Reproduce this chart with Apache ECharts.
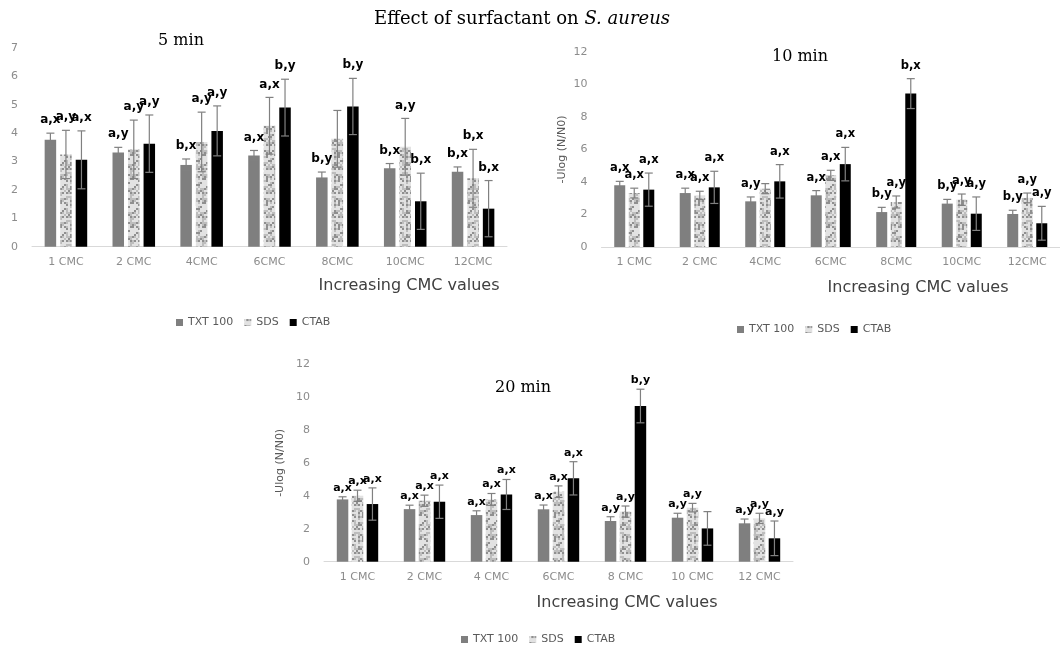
<!DOCTYPE html>
<html><head><meta charset="utf-8">
<script src="https://cdn.jsdelivr.net/npm/echarts@6/dist/echarts.min.js"></script>
<style>html,body{margin:0;padding:0;background:#fff}#c{width:1060px;height:645px}</style>
</head><body><div id="c"></div>
<script>
// ---------------- DATA ----------------
const seriesNames = ['TXT 100', 'SDS', 'CTAB'];

const cats5  = ['1 CMC', '2 CMC', '4CMC', '6CMC', '8CMC', '10CMC', '12CMC'];
const cats10 = ['1 CMC', '2 CMC', '4CMC', '6CMC', '8CMC', '10CMC', '12CMC'];
const cats20 = ['1 CMC', '2 CMC', '4 CMC', '6CMC', '8 CMC', '10 CMC', '12 CMC'];

// 5 min
const txt5     = [3.77, 3.32, 2.88, 3.21, 2.44, 2.76, 2.64];
const txt5Err  = [0.23, 0.18, 0.21, 0.18, 0.19, 0.17, 0.17];
const sds5     = [3.25, 3.43, 3.69, 4.26, 3.80, 3.52, 2.41];
const sds5Err  = [0.85, 1.03, 1.05, 1.00, 1.00, 1.00, 1.02];
const ctab5    = [3.06, 3.63, 4.08, 4.90, 4.94, 1.60, 1.34];
const ctab5Err = [1.02, 1.01, 0.88, 1.00, 0.99, 0.99, 0.99];
const txt5Lbl  = ['a,x', 'a,y', 'b,x', 'a,x', 'b,y', 'b,x', 'b,x'];
const sds5Lbl  = ['a,y', 'a,y', 'a,y', 'a,x', '',    'a,y', 'b,x'];
const ctab5Lbl = ['a,x', 'a,y', 'a,y', 'b,y', 'b,y', 'b,x', 'b,x'];

// 10 min
const txt10     = [3.80, 3.32, 2.81, 3.18, 2.15, 2.67, 2.03];
const txt10Err  = [0.24, 0.30, 0.27, 0.29, 0.29, 0.26, 0.23];
const sds10     = [3.32, 3.18, 3.59, 4.41, 2.77, 2.91, 3.02];
const sds10Err  = [0.30, 0.25, 0.31, 0.31, 0.37, 0.35, 0.30];
const ctab10    = [3.53, 3.67, 4.04, 5.10, 9.44, 2.05, 1.46];
const ctab10Err = [1.02, 0.99, 1.03, 1.03, 0.92, 1.03, 1.04];
const txt10Lbl  = ['a,x', 'a,x', 'a,y', 'a,x', 'b,y', 'b,y', 'b,y'];
const sds10Lbl  = ['a,x', 'a,x', '',    'a,x', 'a,y', 'a,y', 'a,y'];
const ctab10Lbl = ['a,x', 'a,x', 'a,x', 'a,x', 'b,x', 'a,y', 'a,y'];

// 20 min
const txt20     = [3.78, 3.19, 2.83, 3.18, 2.47, 2.67, 2.33];
const txt20Err  = [0.16, 0.24, 0.26, 0.26, 0.26, 0.27, 0.26];
const sds20     = [4.00, 3.70, 3.78, 4.25, 3.04, 3.28, 2.63];
const sds20Err  = [0.34, 0.34, 0.36, 0.35, 0.34, 0.26, 0.31];
const ctab20    = [3.50, 3.64, 4.08, 5.06, 9.45, 2.02, 1.42];
const ctab20Err = [0.98, 1.01, 0.91, 1.01, 1.02, 1.02, 1.05];
const txt20Lbl  = ['a,x', 'a,x', 'a,x', 'a,x', 'a,y', 'a,y', 'a,y'];
const sds20Lbl  = ['a,x', 'a,x', 'a,x', 'a,x', 'a,y', 'a,y', 'a,y'];
const ctab20Lbl = ['a,x', 'a,x', 'a,x', 'a,x', 'b,y', '',    'a,y'];

// y axis ranges
const yMax5 = 7,  yStep5 = 1;
const yMax10 = 12, yStep10 = 2;
const yMax20 = 12, yStep20 = 2;

// ---------------- STYLE ----------------
function speckle() {
  const n = 12, s = 2, cv = document.createElement('canvas');
  cv.width = n * s; cv.height = n * s;
  const ctx = cv.getContext('2d');
  for (let y = 0; y < n; y++) for (let x = 0; x < n; x++) {
    const h = (((x * 7919) ^ (y * 104729) ^ (x * y * 31) ^ (x + 3 * y)) >>> 0) % 10;
    ctx.fillStyle = h < 5 ? '#e2e2e2' : (h < 8 ? '#bdbdbd' : '#8f8f8f');
    ctx.fillRect(x * s, y * s, s, s);
  }
  return cv;
}
const sdsFill = { image: speckle(), repeat: 'repeat' };
const colors = ['#7f7f7f', sdsFill, '#000000'];

const panels = [
  { idx: 0, cats: cats5, max: yMax5, step: yStep5,
    grid: { left: 32, top: 48, width: 475, height: 198.7 },
    barW: 11.5, gap: 0.35, cap: 8, lblGap: 13, lblFont: 'bold 12px "DejaVu Sans"',
    yName: '', yNameGap: 0, data: [[txt5, txt5Err, txt5Lbl], [sds5, sds5Err, sds5Lbl], [ctab5, ctab5Err, ctab5Lbl]] },
  { idx: 1, cats: cats10, max: yMax10, step: yStep10,
    grid: { left: 601.5, top: 52, width: 467.5, height: 195 },
    barW: 11, gap: 0.32, cap: 8, lblGap: 13, lblFont: 'bold 11.5px "DejaVu Sans"',
    yName: '-Ulog (N/N0)', yNameGap: 34, data: [[txt10, txt10Err, txt10Lbl], [sds10, sds10Err, sds10Lbl], [ctab10, ctab10Err, ctab10Lbl]] },
  { idx: 2, cats: cats20, max: yMax20, step: yStep20,
    grid: { left: 324, top: 364, width: 469, height: 197.7 },
    barW: 11.5, gap: 0.30, cap: 8, lblGap: 9, lblFont: 'bold 11px "DejaVu Sans"',
    yName: '-Ulog (N/N0)', yNameGap: 38, data: [[txt20, txt20Err, txt20Lbl], [sds20, sds20Err, sds20Lbl], [ctab20, ctab20Err, ctab20Lbl]] }
];

const grid = [], xAxis = [], yAxis = [], series = [];
panels.forEach(p => {
  grid.push(Object.assign({ containLabel: false }, p.grid));
  xAxis.push({
    type: 'category', gridIndex: p.idx, data: p.cats,
    axisLine: { lineStyle: { color: '#d9d9d9', width: 1 } },
    axisTick: { show: false },
    axisLabel: { color: '#8c8c8c', fontFamily: 'DejaVu Sans', fontSize: 11, margin: 10, interval: 0 }
  });
  yAxis.push({
    type: 'value', gridIndex: p.idx, min: 0, max: p.max, interval: p.step,
    axisLine: { show: false }, axisTick: { show: false }, splitLine: { show: false },
    axisLabel: { color: '#8c8c8c', fontFamily: 'DejaVu Sans', fontSize: 11, margin: 14 },
    name: p.yName, nameLocation: 'middle', nameRotate: 90, nameGap: p.yNameGap,
    nameTextStyle: { color: '#595959', fontFamily: 'DejaVu Sans', fontSize: 11 }
  });
  p.data.forEach((d, k) => {
    series.push({
      type: 'bar', name: seriesNames[k], xAxisIndex: p.idx, yAxisIndex: p.idx,
      data: d[0], barWidth: p.barW, barGap: Math.round(p.gap * 100) + '%',
      itemStyle: { color: colors[k] }, z: 2
    });
  });
  p.data.forEach((d, k) => {
    const vals = d[0], errs = d[1], lbls = d[2];
    series.push({
      type: 'custom', name: seriesNames[k] + ' err', xAxisIndex: p.idx, yAxisIndex: p.idx, z: 5,
      data: vals.map((v, i) => [i, v, errs[i]]),
      renderItem: function (params, api) {
        const i = api.value(0), v = api.value(1), e = api.value(2);
        const c = api.coord([i, v]);
        const top = api.coord([i, v + e]);
        const bot = api.coord([i, Math.max(0, v - e)]);
        const stepPx = p.barW * (1 + p.gap);
        const x = c[0] + (k - 1) * stepPx;
        const hw = p.cap / 2;
        const ls = { stroke: '#808080', lineWidth: 1.2 };
        const ch = [
          { type: 'line', shape: { x1: x, y1: top[1], x2: x, y2: bot[1] }, style: ls },
          { type: 'line', shape: { x1: x - hw, y1: top[1], x2: x + hw, y2: top[1] }, style: ls },
          { type: 'line', shape: { x1: x - hw, y1: bot[1], x2: x + hw, y2: bot[1] }, style: ls }
        ];
        const t = lbls[params.dataIndex];
        if (t) ch.push({ type: 'text', style: { text: t, x: x, y: top[1] - p.lblGap, align: 'center', verticalAlign: 'middle', font: p.lblFont, fill: '#000' } });
        return { type: 'group', children: ch };
      }
    });
  });
});

const legendBase = {
  data: seriesNames, icon: 'rect', itemWidth: 7, itemHeight: 7, itemGap: 11,
  textStyle: { color: '#595959', fontFamily: 'DejaVu Sans', fontSize: 11 }, selectedMode: false
};
const legend = [
  Object.assign({ left: 171, top: 312 }, legendBase),
  Object.assign({ left: 732, top: 319 }, legendBase),
  Object.assign({ left: 456, top: 629 }, legendBase)
];

const axisTitleFont = '16px "DejaVu Sans"';
const graphic = [
  { type: 'text', x: 522, y: 19, style: { text: '{a|Effect of surfactant on }{b|S. aureus}', align: 'center', verticalAlign: 'middle',
      rich: { a: { font: '18px "DejaVu Serif"', fill: '#000' }, b: { font: 'italic 18px "DejaVu Serif"', fill: '#000' } } } },
  { type: 'text', x: 181, y: 41, style: { text: '5 min', font: '16px "DejaVu Serif"', fill: '#000', align: 'center', verticalAlign: 'middle' } },
  { type: 'text', x: 800, y: 57, style: { text: '10 min', font: '16px "DejaVu Serif"', fill: '#000', align: 'center', verticalAlign: 'middle' } },
  { type: 'text', x: 523, y: 388, style: { text: '20 min', font: '16px "DejaVu Serif"', fill: '#000', align: 'center', verticalAlign: 'middle' } },
  { type: 'text', x: 409, y: 286, style: { text: 'Increasing CMC values', font: axisTitleFont, fill: '#404040', align: 'center', verticalAlign: 'middle' } },
  { type: 'text', x: 918, y: 288, style: { text: 'Increasing CMC values', font: axisTitleFont, fill: '#404040', align: 'center', verticalAlign: 'middle' } },
  { type: 'text', x: 627, y: 603, style: { text: 'Increasing CMC values', font: axisTitleFont, fill: '#404040', align: 'center', verticalAlign: 'middle' } }
];

const chart = echarts.init(document.getElementById('c'), null, { renderer: 'canvas' });
chart.setOption({
  backgroundColor: '#ffffff', animation: false,
  grid, xAxis, yAxis, series, legend, graphic
});
</script>
</body></html>
